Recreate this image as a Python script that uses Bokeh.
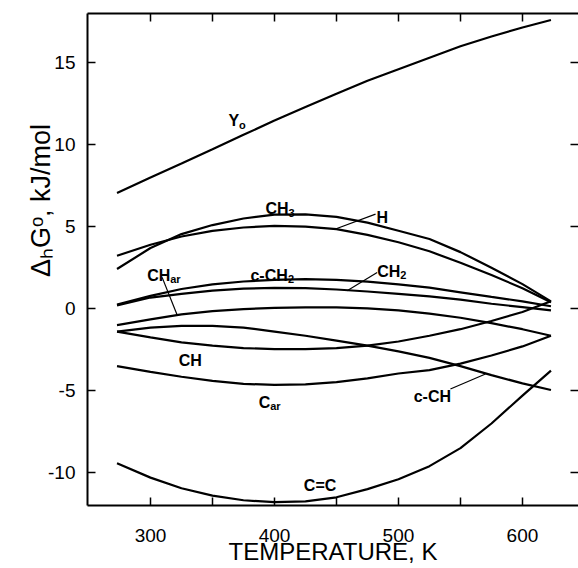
from bokeh.plotting import figure
from bokeh.layouts import row
from bokeh.models import Range1d, LinearAxis, FixedTicker, CustomLabelingPolicy
from bokeh.embed import file_html
from bokeh.resources import INLINE
from bokeh.core.properties import value

# ---- data ----
temperature = [273, 300, 325, 350, 375, 400, 425, 450, 475, 500, 525, 550, 575, 600, 623]

Y_o   = [7.05, 8.0, 8.85, 9.72, 10.6, 11.47, 12.3, 13.1, 13.9, 14.6, 15.3, 16.0, 16.6, 17.15, 17.6]
CH3   = [2.42, 3.7, 4.55, 5.1, 5.5, 5.74, 5.75, 5.6, 5.25, 4.75, 4.25, 3.45, 2.5, 1.5, 0.45]
H     = [3.23, 3.9, 4.4, 4.75, 4.95, 5.05, 5.0, 4.85, 4.5, 4.05, 3.5, 2.8, 2.05, 1.25, 0.4]
cCH2  = [0.25, 0.78, 1.2, 1.48, 1.66, 1.76, 1.8, 1.76, 1.65, 1.48, 1.28, 1.0, 0.72, 0.45, 0.15]
CH2   = [0.2, 0.68, 0.9, 1.1, 1.22, 1.27, 1.25, 1.17, 1.05, 0.9, 0.75, 0.55, 0.3, 0.1, -0.1]
CHar  = [-1.0, -0.65, -0.35, -0.15, -0.02, 0.05, 0.08, 0.08, 0.02, -0.1, -0.3, -0.55, -0.88, -1.25, -1.65]
CH    = [-1.4, -1.75, -2.05, -2.25, -2.4, -2.47, -2.47, -2.4, -2.25, -2.0, -1.65, -1.25, -0.75, -0.2, 0.45]
cCH   = [-1.4, -1.15, -1.05, -1.05, -1.15, -1.4, -1.65, -1.95, -2.25, -2.6, -3.0, -3.5, -4.05, -4.55, -4.96]
Car   = [-3.5, -3.85, -4.15, -4.4, -4.58, -4.65, -4.62, -4.48, -4.25, -3.95, -3.75, -3.35, -2.85, -2.3, -1.65]
CeqC  = [-9.43, -10.3, -10.95, -11.4, -11.68, -11.8, -11.75, -11.5, -11.0, -10.4, -9.6, -8.5, -7.0, -5.3, -3.78]

series = [Y_o, CH3, H, cCH2, CH2, CHar, CH, cCH, Car, CeqC]

x_ticks = [300, 400, 500, 600]
x_minor = [350, 450, 550]
y_ticks = [-10, -5, 0, 5, 10, 15]
y_tick_labels = ["-10", "-5", "0", "5", "10", "15"]

# curve labels: base text and anchor (T, value)
lab_base = ["Y", "CH", "H", "CH", "c-CH", "CH", "CH", "C", "c-CH", "C=C"]
lab_T    = [362.9, 392.7, 482.3, 297.3, 380.6, 482.8, 322.8, 387.3, 512.3, 423.7]
lab_v    = [11.46, 6.08, 5.57, 2.05, 2.05, 2.27, -3.13, -5.71, -5.37, -10.79]
# subscripts: text, anchor (same as their base label), x offset in px
sub_text = ["o", "3", "ar", "2", "2", "ar"]
sub_T    = [362.9, 392.7, 297.3, 380.6, 482.8, 387.3]
sub_v    = [11.46, 6.08, 2.05, 2.05, 2.27, -5.71]
sub_dx   = [10.5, 23.0, 23.0, 37.5, 23.0, 11.5]

# leader lines
lead_T0 = [449.2, 458.6, 321.5, 541.9]
lead_v0 = [4.86, 1.10, -0.38, -4.90]
lead_T1 = [481.5, 482.8, 309.4, 570.2]
lead_v1 = [5.77, 2.21, 1.91, -3.98]

y_title = "ΔₕGᵒ, kJ/mol"
x_title = "TEMPERATURE, K"

FONT = "Liberation Sans"
W, H_PX = 578, 568
STRIP_W = 85                      # left strip: vertical title and y tick labels
TOP_B, BOTTOM_B = 13, 63
Y0, Y1 = -12, 18
X0, X1 = 249.2, 645.2

# the row aligns both frames, so the strip uses the main chart's vertical range
per_px = (Y1 - Y0) / (H_PX - TOP_B - BOTTOM_B)

t = figure(width=STRIP_W, height=H_PX, x_range=Range1d(0, STRIP_W), y_range=Range1d(Y0, Y1),
           output_backend="svg", toolbar_location=None, min_border=0,
           min_border_top=TOP_B, min_border_bottom=BOTTOM_B,
           x_axis_location=None, y_axis_location=None)
t.outline_line_color = None
t.grid.visible = False
t.text(x=[STRIP_W - 10] * len(y_ticks), y=y_ticks, text=y_tick_labels,
       text_font=value(FONT), text_font_size="19px", text_align="right",
       text_baseline="middle", text_color="black")
t.text(x=[40], y=[Y1 - (200 - TOP_B) * per_px], text=[y_title], angle=90, angle_units="deg",
       text_font=value(FONT), text_font_size="27px", text_align="center",
       text_baseline="middle", text_color="black")

# ---- main chart ----
p = figure(width=W - STRIP_W, height=H_PX, x_range=Range1d(X0, X1), y_range=Range1d(Y0, Y1),
           output_backend="svg", toolbar_location=None,
           min_border_left=2, min_border_right=0, min_border_top=TOP_B, min_border_bottom=BOTTOM_B)
p.outline_line_color = None
p.xgrid.visible = False
p.ygrid.visible = False
p.background_fill_color = "white"
p.border_fill_color = "white"

def no_labels():
    return CustomLabelingPolicy(code="return []")

def style_axis(ax, ticker, labels=True, line=True):
    ax.ticker = ticker
    ax.axis_line_width = 2
    ax.axis_line_color = "black" if line else None
    ax.major_tick_in = 8
    ax.major_tick_out = 0
    ax.minor_tick_in = 8
    ax.minor_tick_out = 0
    ax.major_tick_line_width = 1.5
    ax.minor_tick_line_width = 1.5
    ax.major_tick_line_color = "black"
    ax.minor_tick_line_color = "black"
    if labels:
        ax.major_label_text_font = FONT
        ax.major_label_text_font_size = "19px"
        ax.major_label_text_color = "black"
    else:
        ax.major_label_policy = no_labels()
        ax.major_label_text_font_size = "0px"
        ax.major_label_standoff = 0

xa = p.xaxis[0]
style_axis(xa, FixedTicker(ticks=x_ticks, minor_ticks=x_minor))
xa.major_label_standoff = 23
xa.axis_label = x_title
xa.axis_label_text_font = FONT
xa.axis_label_text_font_size = "24px"
xa.axis_label_text_font_style = "normal"
xa.axis_label_text_color = "black"
xa.axis_label_standoff = -7

ya = p.yaxis[0]
style_axis(ya, FixedTicker(ticks=y_ticks, minor_ticks=[]), labels=False)

top = LinearAxis()
style_axis(top, FixedTicker(ticks=x_ticks, minor_ticks=x_minor), labels=False)
p.add_layout(top, "above")
right = LinearAxis()
style_axis(right, FixedTicker(ticks=y_ticks, minor_ticks=[]), labels=False, line=False)
p.add_layout(right, "right")

for s in series:
    p.line(temperature, s, line_color="black", line_width=2.2)

p.segment(lead_T0, lead_v0, lead_T1, lead_v1, line_color="black", line_width=1.2)

p.text(lab_T, lab_v, text=lab_base, text_font=value(FONT), text_font_style="bold",
       text_font_size="16px", text_align="left", text_baseline="alphabetic", text_color="black")
p.text(sub_T, sub_v, text=sub_text, x_offset=sub_dx, y_offset=4, text_font=value(FONT),
       text_font_style="bold", text_font_size="11px", text_align="left",
       text_baseline="alphabetic", text_color="black")

layout = row(t, p, spacing=0)
open("out.html", "w").write(file_html(layout, INLINE))
